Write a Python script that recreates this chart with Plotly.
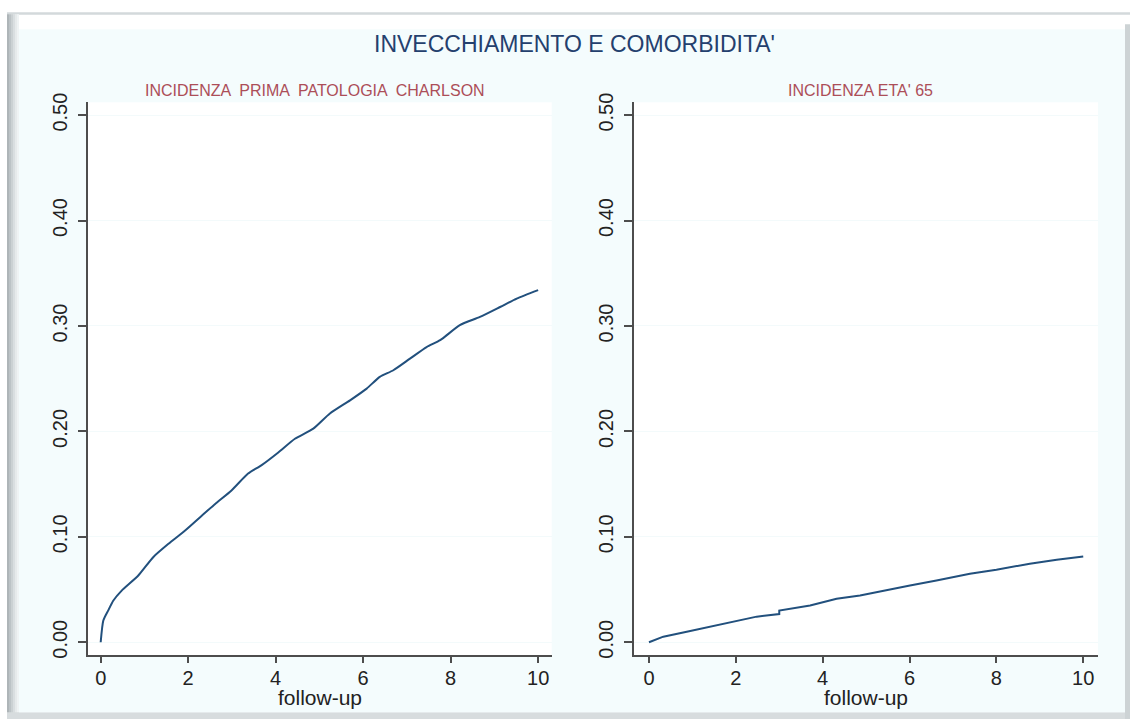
import plotly.graph_objects as go

W, H = 1130, 722

# ---- data ----
fu_left = [0, 0.06, 0.17, 0.29, 0.48, 0.86, 1.20, 1.55, 1.93, 2.31, 2.61, 2.99, 3.37, 3.68,
           4.06, 4.44, 4.86, 5.24, 5.70, 6.08, 6.38, 6.69, 7.07, 7.45, 7.76, 8.21, 8.67,
           9.13, 9.51, 10.0]
inc_charlson = [0, 0.0206, 0.030, 0.0396, 0.049, 0.0633, 0.0807, 0.0934, 0.106, 0.120, 0.131,
                0.144, 0.160, 0.168, 0.180, 0.193, 0.2026, 0.217, 0.2295, 0.2406, 0.2517,
                0.258, 0.269, 0.280, 0.2865, 0.3008, 0.3086, 0.318, 0.326, 0.334]

fu_right = [0, 0.33, 0.87, 1.40, 1.94, 2.48, 3.0, 3.0, 3.71, 4.32, 4.86, 5.39, 6.01, 6.62,
            7.39, 8.0, 8.77, 9.39, 10.0]
inc_eta65 = [0, 0.0053, 0.0100, 0.0148, 0.0195, 0.0243, 0.0268, 0.030, 0.0348, 0.0412, 0.0443,
             0.0490, 0.0538, 0.0586, 0.065, 0.0688, 0.0745, 0.0783, 0.0814]

x_ticks = [0, 2, 4, 6, 8, 10]
y_ticks = [0.0, 0.1, 0.2, 0.3, 0.4, 0.5]

main_title = "INVECCHIAMENTO E COMORBIDITA'"
sub_titles = ["INCIDENZA  PRIMA  PATOLOGIA  CHARLSON", "INCIDENZA ETA' 65"]
x_title = "follow-up"

LINE = "#22507D"
AXIS = "#4D4D4D"
FONT = "Liberation Sans, Arial, sans-serif"


def px(x):
    return x / W


def py(y):
    # vertical placement (pixels from top), tuned against the rendered screenshot
    yi = (y - 7.7) / 0.985
    return 1 - yi / H


fig = go.Figure()
fig.add_trace(go.Scatter(x=fu_left, y=inc_charlson, mode="lines",
                         line=dict(color=LINE, width=2, shape="spline", smoothing=0.6),
                         xaxis="x", yaxis="y", showlegend=False, hoverinfo="x+y"))
fig.add_trace(go.Scatter(x=fu_right, y=inc_eta65, mode="lines",
                         line=dict(color=LINE, width=2), xaxis="x2", yaxis="y2",
                         showlegend=False, hoverinfo="x+y"))

# plot areas in pixels
L = (87.7, 551.7)
R = (634.0, 1098.0)
TOP, BOT = 101.0, 655.0

xcommon = dict(showline=True, linecolor=AXIS, linewidth=1.5, ticks="outside", ticklen=6,
               tickwidth=1.5, tickcolor=AXIS, tickvals=x_ticks, showgrid=False, zeroline=False,
               tickfont=dict(family=FONT, size=20, color="#222222"), ticklabelstandoff=-2,
               fixedrange=True)
ycommon = dict(showline=True, linecolor=AXIS, linewidth=1.5, ticks="outside", ticklen=8,
               tickwidth=1.5, tickcolor=AXIS, tickvals=y_ticks, tickformat=".2f",
               range=[-0.0123, 0.5123], showgrid=True, gridcolor="#F3FAFB", gridwidth=1,
               zeroline=False, tickangle=-90,
               tickfont=dict(family=FONT, size=20, color="#222222"), ticklabelstandoff=3,
               fixedrange=True)

fig.update_layout(
    width=W, height=H, autosize=False,
    margin=dict(l=0, r=0, t=0, b=0),
    paper_bgcolor="white", plot_bgcolor="white",
    xaxis=dict(domain=[px(L[0]), px(L[1])], range=[-0.297, 10.31], anchor="y", **xcommon),
    yaxis=dict(domain=[py(BOT), py(TOP)], anchor="x", **ycommon),
    xaxis2=dict(domain=[px(R[0]), px(R[1])], range=[-0.345, 10.34], anchor="y2", **xcommon),
    yaxis2=dict(domain=[py(BOT), py(TOP)], anchor="x2", **ycommon),
)

shapes = []
# outer frame: top line
shapes.append(dict(type="rect", xref="paper", yref="paper", x0=px(7), x1=px(1130),
                   y0=py(13.5), y1=py(11), fillcolor="#D3D9DB", line=dict(width=0), layer="below"))
# left gradient bar
greys = ["#AEB5B8", "#BCC3C6", "#CBD1D3", "#D9DEE0", "#E6EAEB", "#EFF3F4"]
for i, c in enumerate(greys):
    shapes.append(dict(type="rect", xref="paper", yref="paper", x0=px(7 + i * 2), x1=px(9 + i * 2),
                       y0=0, y1=py(13), fillcolor=c, line=dict(width=0), layer="below"))
# bottom shadow
shapes.append(dict(type="rect", xref="paper", yref="paper", x0=px(7), x1=px(1130),
                   y0=0, y1=py(712), fillcolor="#D7DCDE", line=dict(width=0), layer="below"))
# right shadow
shapes.append(dict(type="rect", xref="paper", yref="paper", x0=px(1125), x1=px(1130),
                   y0=0, y1=py(23), fillcolor="#CDD3D5", line=dict(width=0), layer="below"))
# light cyan graph region
shapes.append(dict(type="rect", xref="paper", yref="paper", x0=px(19), x1=px(1125),
                   y0=py(712), y1=py(28), fillcolor="#F4FCFD", line=dict(width=0), layer="below"))
# white plot regions
for a, b in (L, R):
    shapes.append(dict(type="rect", xref="paper", yref="paper", x0=px(a), x1=px(b),
                       y0=py(BOT), y1=py(TOP), fillcolor="white", line=dict(width=0), layer="below"))
fig.update_layout(shapes=shapes)

ann = [
    dict(text=main_title, x=px(574.5), y=py(43), xref="paper", yref="paper", showarrow=False,
         xanchor="center", yanchor="middle", font=dict(family=FONT, size=23, color="#24406E")),
    dict(text=sub_titles[0], x=px(315), y=py(89), xref="paper", yref="paper", showarrow=False,
         xanchor="center", yanchor="middle", font=dict(family=FONT, size=16, color="#AC4E58")),
    dict(text=sub_titles[1], x=px(860.5), y=py(89), xref="paper", yref="paper", showarrow=False,
         xanchor="center", yanchor="middle", font=dict(family=FONT, size=16, color="#AC4E58")),
    dict(text=x_title, x=px((L[0] + L[1]) / 2), y=py(697), xref="paper", yref="paper",
         showarrow=False, xanchor="center", yanchor="middle",
         font=dict(family=FONT, size=21, color="#222222")),
    dict(text=x_title, x=px((R[0] + R[1]) / 2), y=py(697), xref="paper", yref="paper",
         showarrow=False, xanchor="center", yanchor="middle",
         font=dict(family=FONT, size=21, color="#222222")),
]
fig.update_layout(annotations=ann)

fig.write_html("out.html", config={"displayModeBar": False},
               post_script="document.body.style.margin='0';document.body.style.overflow='hidden';")
